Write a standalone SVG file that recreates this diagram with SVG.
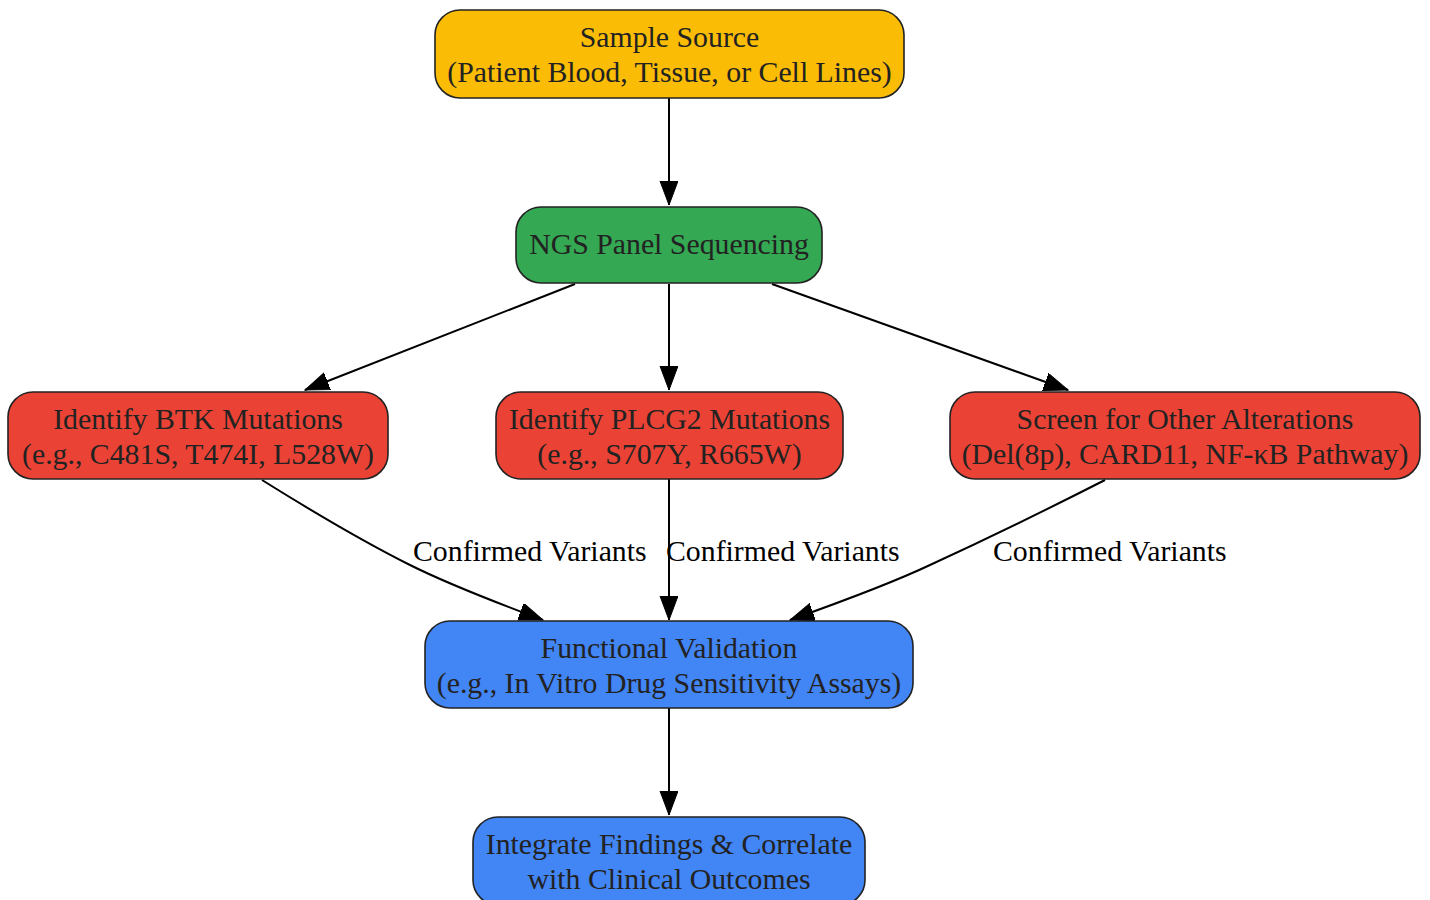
<svg xmlns="http://www.w3.org/2000/svg" width="1430" height="900" viewBox="0 0 1430 900">
<defs>
<marker id="ah" markerUnits="userSpaceOnUse" markerWidth="26" markerHeight="20" refX="24" refY="9" orient="auto">
<path d="M0,0 L24,9 L0,18 Z" fill="#000" stroke="#000" stroke-width="1"/>
</marker>
</defs>
<style>
.n{stroke:#222;stroke-width:1.6}
.t{font-family:"Liberation Serif","Times New Roman",serif;font-size:29.8px;fill:#222;text-anchor:middle}
.l{font-family:"Liberation Serif","Times New Roman",serif;font-size:29.8px;fill:#000;text-anchor:start}
.e{fill:none;stroke:#000;stroke-width:2;marker-end:url(#ah)}
</style>
<rect width="1430" height="900" fill="#fff"/>
<g id="connectors">
<path class="e" d="M669,98 L669,205"/>
<path class="e" d="M575,284 L305,390"/>
<path class="e" d="M669,284 L669,390"/>
<path class="e" d="M772,284 L1068,390"/>
<path class="e" d="M262,480 C310,510 360,540 410,565 C450,585 500,604 543,620"/>
<path class="e" d="M669,479 L669,620"/>
<path class="e" d="M1105,480 C1050,508 980,542 930,565 C890,584 835,604 790,620"/>
<path class="e" d="M669,708 L669,815"/>
<text class="l" x="413" y="561">Confirmed Variants</text>
<text class="l" x="666" y="561">Confirmed Variants</text>
<text class="l" x="993" y="561">Confirmed Variants</text>
</g>
<g id="sample">
<rect class="n" x="435" y="10" width="469" height="88" rx="25" fill="#FBBC05"/>
<text class="t" x="669.5" y="47">Sample Source</text>
<text class="t" x="669.5" y="82">(Patient Blood, Tissue, or Cell Lines)</text>
</g>
<g id="ngs">
<rect class="n" x="516" y="207" width="306" height="76" rx="25" fill="#34A853"/>
<text class="t" x="669" y="254">NGS Panel Sequencing</text>
</g>
<g id="btk">
<rect class="n" x="8" y="392" width="380" height="87" rx="25" fill="#EA4335"/>
<text class="t" x="198" y="429">Identify BTK Mutations</text>
<text class="t" x="198" y="464">(e.g., C481S, T474I, L528W)</text>
</g>
<g id="plcg2">
<rect class="n" x="496" y="392" width="347" height="87" rx="25" fill="#EA4335"/>
<text class="t" x="669.5" y="429">Identify PLCG2 Mutations</text>
<text class="t" x="669.5" y="464">(e.g., S707Y, R665W)</text>
</g>
<g id="screen">
<rect class="n" x="950" y="392" width="470" height="87" rx="25" fill="#EA4335"/>
<text class="t" x="1185" y="429">Screen for Other Alterations</text>
<text class="t" x="1185" y="464">(Del(8p), CARD11, NF-κB Pathway)</text>
</g>
<g id="functional">
<rect class="n" x="425" y="621" width="488" height="87" rx="25" fill="#4285F4"/>
<text class="t" x="669" y="658">Functional Validation</text>
<text class="t" x="669" y="693">(e.g., In Vitro Drug Sensitivity Assays)</text>
</g>
<g id="integrate">
<rect class="n" x="473" y="817" width="392" height="88" rx="25" fill="#4285F4"/>
<text class="t" x="669" y="854">Integrate Findings &amp; Correlate</text>
<text class="t" x="669" y="889">with Clinical Outcomes</text>
</g>
</svg>
